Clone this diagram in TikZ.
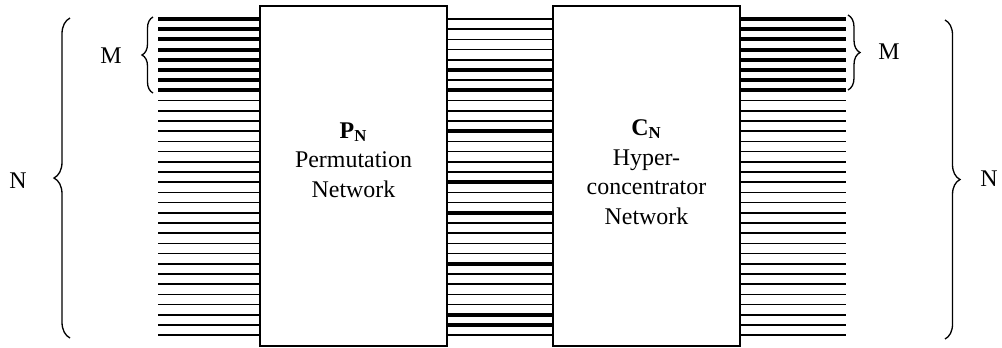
\documentclass[tikz,border=0pt]{standalone}
\usepackage{fontspec}
\setmainfont{Liberation Serif}
\usetikzlibrary{decorations.pathreplacing}

\def\px{0.0188cm}

\begin{document}
\begin{tikzpicture}[x=\px, y=-\px,
        netbox/.style={draw, line width=0.8pt, inner sep=0pt, minimum width=187*\px, minimum height=340*\px},
        wire/.style={line width=0.8pt},
        busy/.style={line width=2.1pt},
        curly/.style={decorate, decoration={brace, amplitude=#1*\px}, line width=0.7pt},
        lbl/.style={align=center, font=\fontsize{12.8}{15.8}\selectfont}]

        \useasboundingbox (0,0) rectangle (1002,347);

        % Networks
        \node[netbox] (perm) at (353.5,176) {};
        \node[netbox] (conc) at (646.5,176) {};

        \node[lbl] (permtxt) at (353.5,160) {\textbf{P}\textsubscript{\textbf{N}}\\Permutation\\Network};
        \node[lbl] (conctxt) at (646.5,172) {\textbf{C}\textsubscript{\textbf{N}}\\Hyper-\\concentrator\\Network};

        % Wires
        \foreach \i in {0,...,31}{
            \pgfmathsetmacro\y{19+10.2*\i}
            \draw[wire] (158,\y) -- (perm.west |- 0,\y);
            \draw[wire] (perm.east |- 0,\y) -- (conc.west |- 0,\y);
            \draw[wire] (conc.east |- 0,\y) -- (846,\y);
        }
        \foreach \i in {0,...,7}{
            \pgfmathsetmacro\y{19+10.2*\i}
            \draw[busy] (158,\y) -- (perm.west |- 0,\y);
            \draw[busy] (conc.east |- 0,\y) -- (846,\y);
        }
        \foreach \i in {5,7,11,16,19,24,29,30}{
            \pgfmathsetmacro\y{19+10.2*\i}
            \draw[busy] (perm.east |- 0,\y) -- (conc.west |- 0,\y);
        }

        % Braces
        \coordinate (mlbot) at (153,93);
        \coordinate (mltop) at (153,17);
        \coordinate (nlbot) at (70,338);
        \coordinate (nltop) at (70,18);
        \coordinate (mrtop) at (848,15);
        \coordinate (mrbot) at (848,90);
        \coordinate (nrtop) at (945,20);
        \coordinate (nrbot) at (945,339);

        \draw[curly=11] (mlbot) -- (mltop);
        \draw[curly=16] (nlbot) -- (nltop);
        \draw[curly=12] (mrtop) -- (mrbot);
        \draw[curly=15] (nrtop) -- (nrbot);

        \node[lbl] (mleft) at (111,56) {M};
        \node[lbl] (nleft) at (18,181) {N};
        \node[lbl] (mright) at (889,52) {M};
        \node[lbl] (nright) at (989,179) {N};

    \end{tikzpicture}
\end{document}
